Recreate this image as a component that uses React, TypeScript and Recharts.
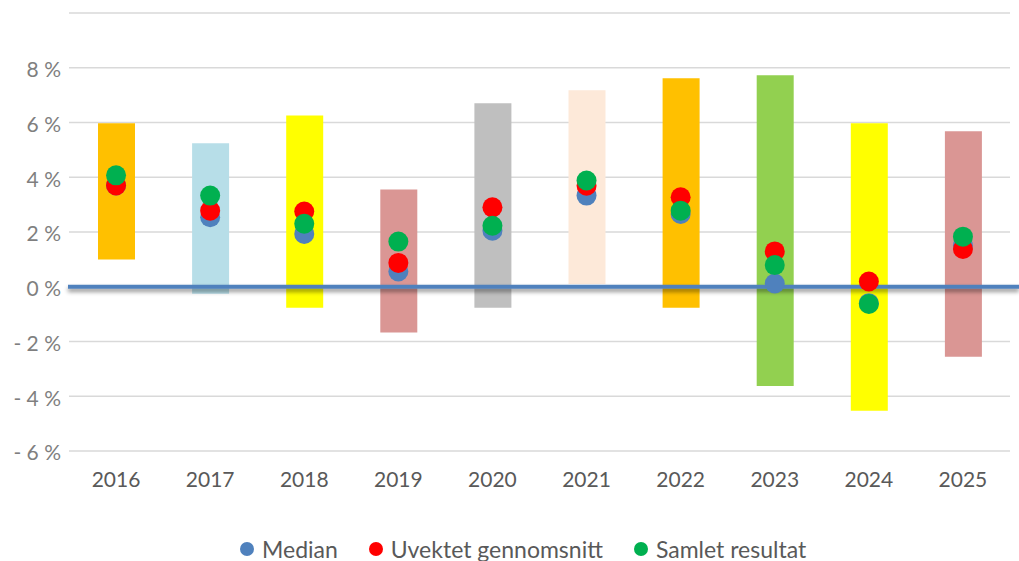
import {
  ComposedChart,
  Bar,
  Line,
  Cell,
  XAxis,
  YAxis,
  CartesianGrid,
  ReferenceLine,
  Legend,
} from 'recharts'

const years = ['2016', '2017', '2018', '2019', '2020', '2021', '2022', '2023', '2024', '2025']
const lows = [1.0, -0.26, -0.77, -1.67, -0.77, 0.1, -0.77, -3.63, -4.53, -2.56]
const highs = [5.97, 5.24, 6.26, 3.55, 6.7, 7.18, 7.62, 7.73, 5.97, 5.68]
const median = [3.7, 2.54, 1.93, 0.56, 2.05, 3.33, 2.66, 0.12, -0.6, 1.5]
const unweighted = [3.7, 2.78, 2.75, 0.87, 2.9, 3.69, 3.27, 1.29, 0.19, 1.38]
const overall = [4.07, 3.33, 2.3, 1.65, 2.23, 3.88, 2.78, 0.79, -0.63, 1.83]
const yTicks = [-6, -4, -2, 0, 2, 4, 6, 8, 10]

const barColors = [
  '#FFC000', '#B7DEE8', '#FFFF00', '#DA9694', '#BFBFBF',
  '#FDE9D9', '#FFC000', '#92D050', '#FFFF00', '#DA9694',
]

const series = [
  { key: 'median', name: 'Median', color: '#4F81BD' },
  { key: 'avg', name: 'Uvektet gennomsnitt', color: '#FF0000' },
  { key: 'total', name: 'Samlet resultat', color: '#00B050' },
]

const data = years.map((year, i) => ({
  year,
  range: [lows[i], highs[i]],
  median: median[i],
  avg: unweighted[i],
  total: overall[i],
}))

const font = 'Lato, "Noto Sans", sans-serif'

function formatPct(v: number) {
  if (v === 10) return ''
  return v < 0 ? `- ${Math.abs(v)} %` : `${v} %`
}

function LegendBox() {
  return (
    <div
      style={{
        height: 60,
        paddingTop: 36,
        boxSizing: 'border-box',
        display: 'flex',
        paddingLeft: 240,
        fontFamily: font,
        fontSize: 23,
        lineHeight: '24px',
        color: '#595959',
        whiteSpace: 'nowrap',
      }}
    >
      {series.map((s) => (
        <div key={s.key} style={{ display: 'flex', alignItems: 'center', marginRight: 31 }}>
          <span
            style={{
              width: 14,
              height: 14,
              borderRadius: 7,
              background: s.color,
              marginRight: 8,
              display: 'inline-block',
            }}
          />
          <span>{s.name}</span>
        </div>
      ))}
    </div>
  )
}

function ZeroLine(props: any) {
  const { x1, y1 } = props
  return (
    <g>
      <defs>
        <filter id="zshadow" filterUnits="userSpaceOnUse" x={0} y={y1 - 10} width={1019} height={30}>
          <feDropShadow dx="0" dy="3" stdDeviation="2" floodColor="#000" floodOpacity="0.45" />
        </filter>
      </defs>
      <line x1={x1 - 1} y1={y1} x2={1019} y2={y1} stroke="#4F81BD" strokeWidth={4} filter="url(#zshadow)" />
    </g>
  )
}

export default function App() {
  return (
    <div style={{ position: 'absolute', left: 0, top: 0, width: 1019, height: 561, background: '#fff' }}>
      <ComposedChart
        width={1019}
        height={561}
        data={data}
        margin={{ top: 13, right: 9, left: 0, bottom: 0 }}
      >
        <CartesianGrid vertical={false} stroke="#D9D9D9" strokeWidth={1.5} />
        <XAxis
          dataKey="year"
          axisLine={false}
          tickLine={false}
          height={50}
          tickMargin={15}
          tick={{ fill: '#595959', fontSize: 21, fontFamily: font }}
        />
        <YAxis
          width={69}
          domain={[-6, 10]}
          ticks={yTicks}
          interval={0}
          axisLine={false}
          tickLine={false}
          tickFormatter={formatPct}
          tick={{ fill: '#7F7F7F', fontSize: 21, fontFamily: font, dy: 2 }}
        />
        <Bar dataKey="range" barSize={37} isAnimationActive={false} legendType="none">
          {data.map((_, i) => (
            <Cell key={i} fill={barColors[i]} />
          ))}
        </Bar>
        {series.map((s) => (
          <Line
            key={s.key}
            dataKey={s.key}
            name={s.name}
            stroke="none"
            dot={{ r: 10, fill: s.color, stroke: 'none', strokeWidth: 0 }}
            activeDot={false}
            isAnimationActive={false}
          />
        ))}
        <ReferenceLine y={0} stroke="#4F81BD" shape={ZeroLine} />
        <Legend
          verticalAlign="bottom"
          height={60}
          wrapperStyle={{ left: 0, width: 1019 }}
          content={() => <LegendBox />}
        />
      </ComposedChart>
    </div>
  )
}
